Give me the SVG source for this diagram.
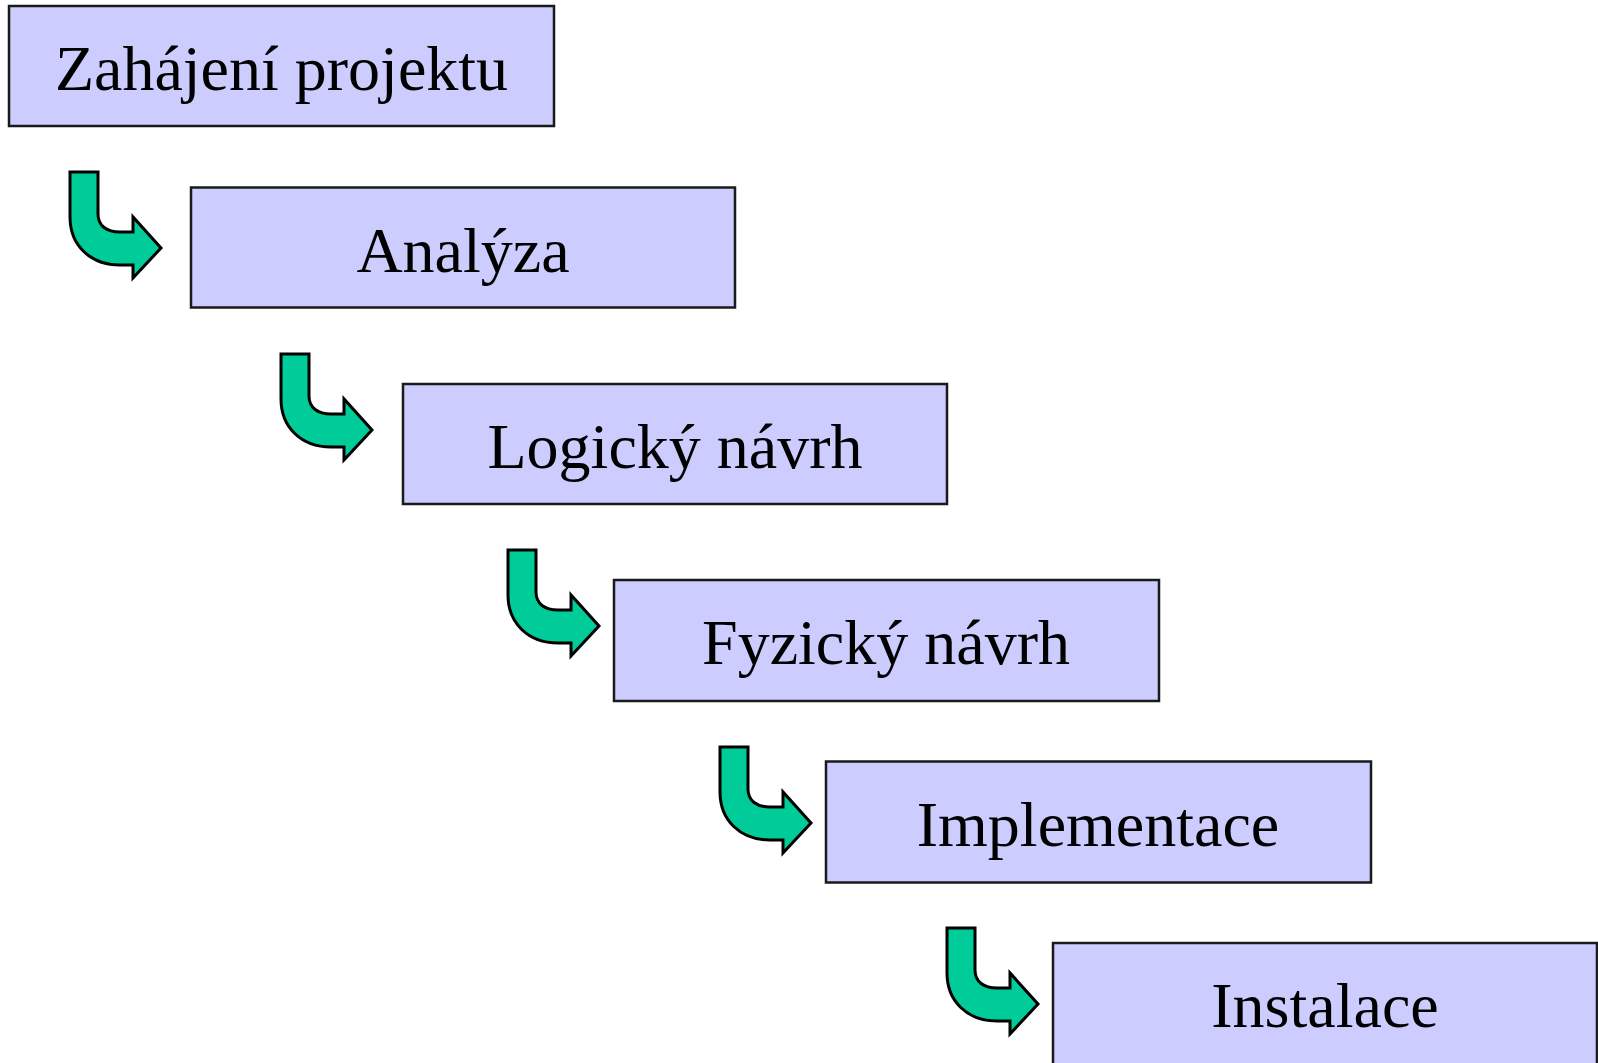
<svg xmlns="http://www.w3.org/2000/svg" width="1598" height="1063" viewBox="0 0 1598 1063">
<style>
.box{fill:#CCCCFF;stroke:#1a1a1a;stroke-width:2.5}
.lbl{font-family:"Liberation Serif","Times New Roman",serif;font-size:64px;fill:#000;text-anchor:middle}
.arr{fill:#00CC99;stroke:#000;stroke-width:3;stroke-linejoin:miter}
</style>
<defs>
<path id="bend" d="M0,0 H28 V42 C28,54 37,60 50,60 H63 V45 L91,76 L63,106 V93 H50 C20,93 0,73 0,45 Z"/>
</defs>
<rect width="1598" height="1063" fill="#fff"/>
<g id="connectors">
<use href="#bend" class="arr" x="70" y="172"/>
<use href="#bend" class="arr" x="281" y="354"/>
<use href="#bend" class="arr" x="508" y="550"/>
<use href="#bend" class="arr" x="720" y="747"/>
<use href="#bend" class="arr" x="947" y="928"/>
</g>
<g id="n1"><rect class="box" x="9" y="6" width="545" height="120"/><text class="lbl" x="281.5" y="90">Zahájení projektu</text></g>
<g id="n2"><rect class="box" x="191" y="187.5" width="544" height="120"/><text class="lbl" x="463" y="272">Analýza</text></g>
<g id="n3"><rect class="box" x="403" y="384" width="544" height="120"/><text class="lbl" x="675" y="468">Logický návrh</text></g>
<g id="n4"><rect class="box" x="614" y="580" width="545" height="121"/><text class="lbl" x="886" y="664">Fyzický návrh</text></g>
<g id="n5"><rect class="box" x="826" y="761.5" width="545" height="121"/><text class="lbl" x="1098" y="846">Implementace</text></g>
<g id="n6"><rect class="box" x="1053" y="943" width="544" height="140"/><text class="lbl" x="1325" y="1027">Instalace</text></g>
</svg>
